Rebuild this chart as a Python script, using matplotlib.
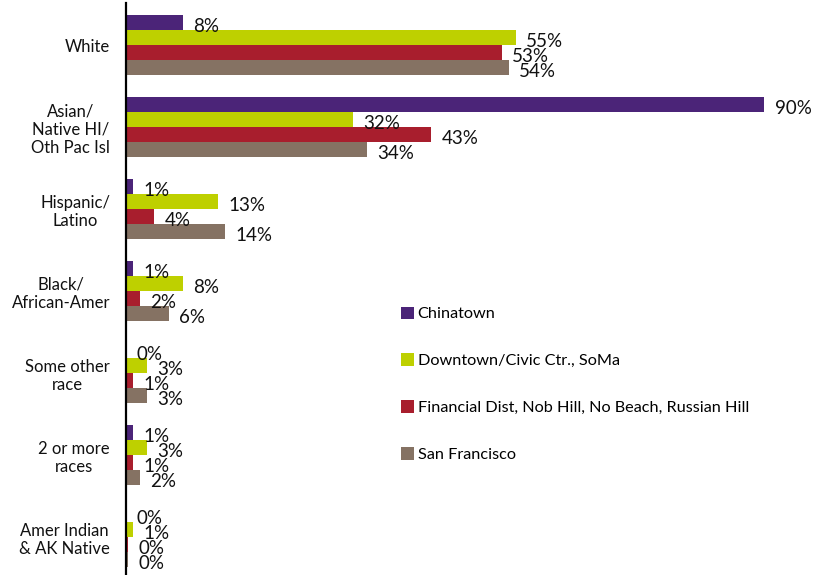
import matplotlib
matplotlib.use("Agg")
import matplotlib.pyplot as plt
from matplotlib.patches import Patch
import numpy as np

plt.rcParams['font.family'] = ['Lato', 'DejaVu Sans']

categories = ["White", "Asian/\nNative HI/\nOth Pac Isl", "Hispanic/\nLatino",
              "Black/\nAfrican-Amer", "Some other\nrace", "2 or more\nraces",
              "Amer Indian\n& AK Native"]
series = ["Chinatown", "Downtown/Civic Ctr., SoMa",
          "Financial Dist, Nob Hill, No Beach, Russian Hill", "San Francisco"]
chinatown = [8, 90, 1, 1, 0, 1, 0]
downtown = [55, 32, 13, 8, 3, 3, 1]
financial = [53, 43, 4, 2, 1, 1, 0.3]
san_francisco = [54, 34, 14, 6, 3, 2, 0.3]
colors = ["#4B2478", "#BED000", "#A81E2D", "#857263"]

values = [chinatown, downtown, financial, san_francisco]

fig = plt.figure(figsize=(8.24, 5.75), dpi=100)
ax = fig.add_axes([126 / 824, 0, 1 - 126 / 824, 1 - 3 / 575])

y = np.arange(len(categories))
h = 15 / 82
for j, (vals, col) in enumerate(zip(values, colors)):
    pos = y + (j - 1.5) * h
    ax.barh(pos, vals, height=h, color=col, edgecolor='none')
    for p, v in zip(pos, vals):
        ax.annotate(f"{round(v):.0f}%", (v, p), xytext=(7.5, -3),
                    textcoords='offset points', va='center', ha='left',
                    fontsize=13.5, color='#111111')

ax.set_xlim(0, 698 / 7.09)
ax.set_ylim(6.46, -0.512)
ax.set_yticks(y)
ax.set_yticklabels(categories, fontsize=12, multialignment='center', color='#111111')
ax.tick_params(axis='y', length=0, pad=11.5)
ax.set_xticks([])
for s in ['top', 'right', 'bottom']:
    ax.spines[s].set_visible(False)
ax.spines['left'].set_linewidth(1.6)
ax.spines['left'].set_color('black')

handles = [Patch(facecolor=c, edgecolor='none') for c in colors]
ax.legend(handles, series, loc='upper left', bbox_to_anchor=(268 / 698, 1 - 297 / 572),
          frameon=False, fontsize=11.7, handlelength=0.8, handleheight=0.8,
          handletextpad=0.25, labelspacing=1.97, borderaxespad=0)

fig.savefig("out.png", dpi=100)
plt.close(fig)
